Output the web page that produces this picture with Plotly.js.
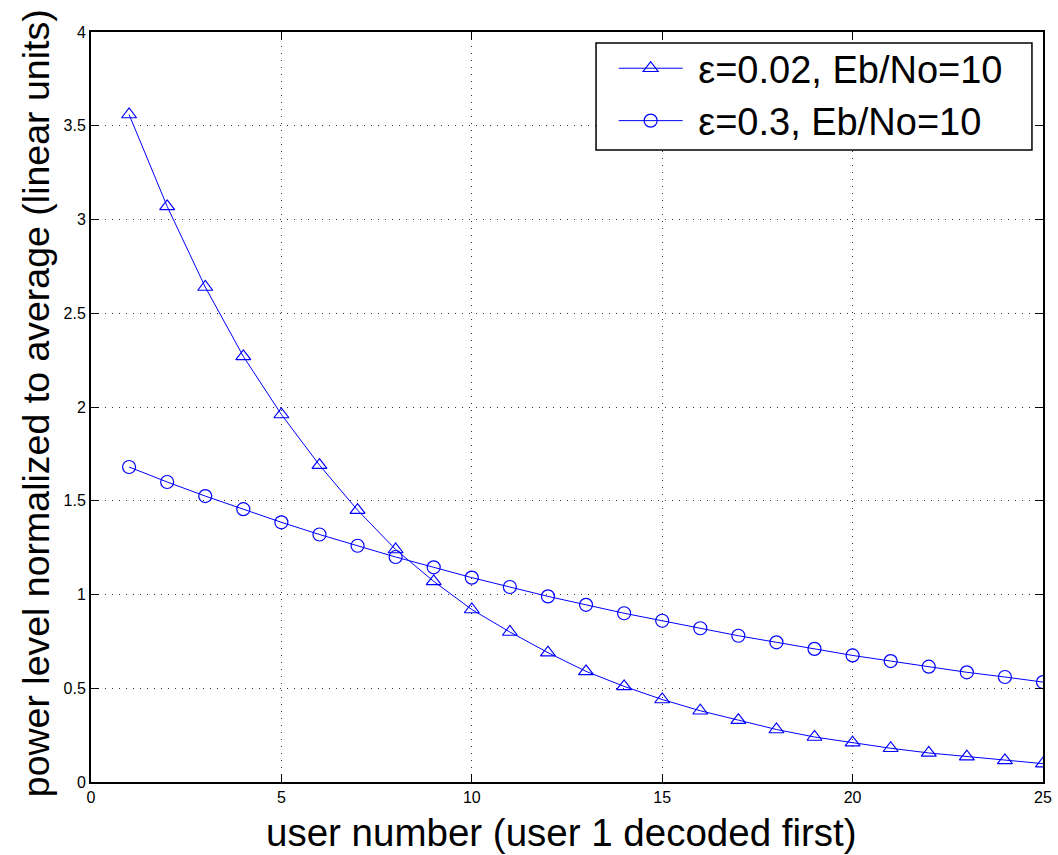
<!DOCTYPE html>
<html>
<head>
<meta charset="utf-8">
<script src="https://cdn.plot.ly/plotly-3.0.1.min.js"></script>
<style>html,body{margin:0;padding:0;background:#fff;}#chart{width:1058px;height:855px;}</style>
</head>
<body>
<div id="chart"></div>
<script>
var users = [1,2,3,4,5,6,7,8,9,10,11,12,13,14,15,16,17,18,19,20,21,22,23,24,25];
var powerEps002 = [3.56,3.07,2.64,2.27,1.96,1.69,1.45,1.24,1.07,0.92,0.80,0.69,0.59,0.51,0.44,0.38,0.33,0.28,0.24,0.21,0.18,0.155,0.135,0.115,0.098];
var powerEps03 = [1.68,1.60,1.525,1.455,1.385,1.32,1.26,1.20,1.145,1.09,1.04,0.99,0.945,0.90,0.86,0.82,0.78,0.745,0.71,0.675,0.645,0.615,0.585,0.56,0.533];
var seriesNames = ['\u03b5=0.02, Eb/No=10', '\u03b5=0.3, Eb/No=10'];
var xTitle = 'user number (user 1 decoded first)';
var yTitle = 'power level normalized to average (linear units)';

var font = '"Liberation Sans", Arial, Helvetica, sans-serif';
var traces = [
  {x: users, y: powerEps002, name: '\u00a0' + seriesNames[0], mode: 'lines+markers',
   line: {color: '#0000ff', width: 1},
   marker: {symbol: 'triangle-up-open', size: 13, color: '#0000ff', line: {width: 1.2, color: '#0000ff'}}},
  {x: users, y: powerEps03, name: '\u00a0' + seriesNames[1], mode: 'lines+markers',
   line: {color: '#0000ff', width: 1},
   marker: {symbol: 'circle-open', size: 13, color: '#0000ff', line: {width: 1.2, color: '#0000ff'}}}
];
var axisCommon = {
  showline: true, linecolor: '#000', linewidth: 2, mirror: 'ticks',
  ticks: 'inside', ticklen: 8, tickcolor: '#000', tickwidth: 1,
  showgrid: true, gridcolor: '#333', griddash: '1px,6px', gridwidth: 1,
  zeroline: false,
  tickfont: {family: font, size: 16, color: '#000'}
};
var layout = {
  width: 1058, height: 855,
  paper_bgcolor: '#fff', plot_bgcolor: '#fff',
  margin: {l: 91, r: 15, t: 32, b: 73},
  showlegend: true,
  xaxis: Object.assign({}, axisCommon, {
    range: [0, 25], tickvals: [0,5,10,15,20,25]
  }),
  yaxis: Object.assign({}, axisCommon, {
    range: [0, 4], tickvals: [0,0.5,1,1.5,2,2.5,3,3.5,4],
    ticktext: ['0','0.5','1','1.5','2','2.5','3','3.5','4']
  }),
  annotations: [
    {text: xTitle, xref: 'paper', yref: 'paper', x: 0.4947, y: -0.0667,
     xanchor: 'center', yanchor: 'middle', showarrow: false,
     font: {family: font, size: 38.5, color: '#000'}},
    {text: yTitle, xref: 'paper', yref: 'paper', x: -0.0578, y: 0.505,
     xanchor: 'center', yanchor: 'middle', showarrow: false, textangle: -90,
     font: {family: font, size: 37.5, color: '#000'}}
  ],
  shapes: [
    {type: 'rect', xref: 'paper', yref: 'paper', x0: 0.5305, x1: 0.9884, y0: 0.8427, y1: 0.9853,
     layer: 'above', fillcolor: '#fff', line: {color: '#000', width: 1.5}}
  ],
  legend: {
    x: 0.549, y: 0.9933, xanchor: 'left', yanchor: 'top',
    bgcolor: 'rgba(0,0,0,0)', borderwidth: 0,
    font: {family: font, size: 38, color: '#000'},
    itemwidth: 64
  }
};
Plotly.newPlot('chart', traces, layout, {displayModeBar: false, staticPlot: true});
</script>
</body>
</html>
